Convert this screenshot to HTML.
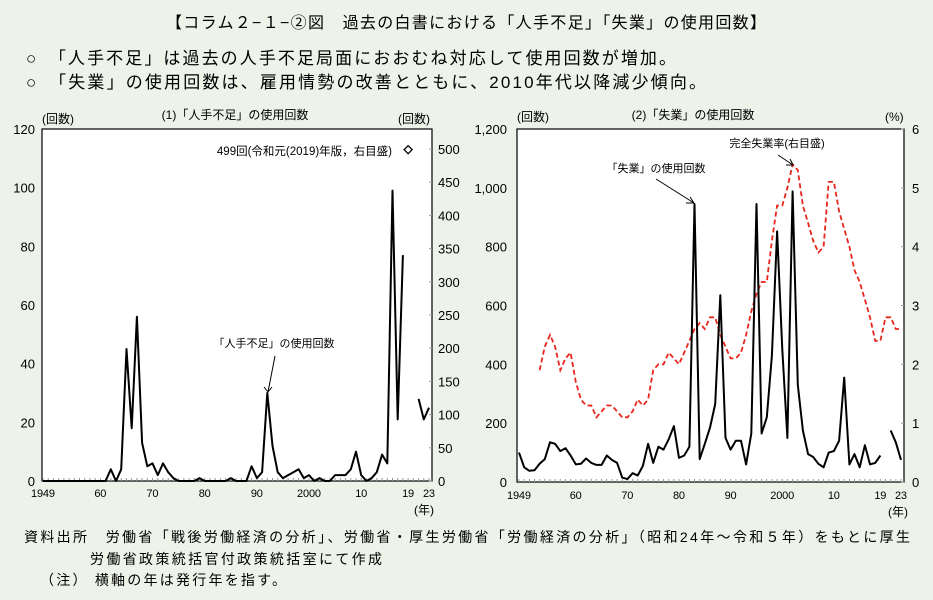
<!DOCTYPE html>
<html><head><meta charset="utf-8">
<style>
html,body{margin:0;padding:0;background:#eef3ea;}
svg{display:block;font-family:"Liberation Sans","Noto Sans CJK JP",sans-serif;}
</style></head>
<body>
<svg id="fig" width="933" height="600" viewBox="0 0 933 600">
<rect x="0" y="0" width="933" height="600" fill="#eef3ea"/>
<text x="466" y="28" font-size="16" text-anchor="middle" textLength="600">【コラム２−１−②図　過去の白書における「人手不足」「失業」の使用回数】</text>
<text x="26" y="64" font-size="17" textLength="650">○　「人手不足」は過去の人手不足局面におおむね対応して使用回数が増加。</text>
<text x="26" y="88" font-size="17" textLength="680">○　「失業」の使用回数は、雇用情勢の改善とともに、2010年代以降減少傾向。</text>
<text x="24" y="542" font-size="14" textLength="886">資料出所　労働省「戦後労働経済の分析」、労働省・厚生労働省「労働経済の分析」（昭和24年〜令和５年）をもとに厚生</text>
<text x="90" y="564" font-size="14" textLength="292">労働省政策統括官付政策統括室にて作成</text>
<text x="40" y="585" font-size="14" textLength="246">（注）  横軸の年は発行年を指す。</text>
<g id="c1"></g>
<g id="c2"></g>
</svg>
<script>
// Chart 1 data: "人手不足" mentions by year (1949-2023), null = not plotted
const years1 = [];
for (let y = 1949; y <= 2023; y++) years1.push(y);
const shortageCounts = [0,0,0,0,0,0,0,0,0,0,0,0,4,0,4,45,18,56,13,5,6,2,6,3,1,0,0,0,0,1,0,0,0,0,0,1,0,0,0,5,1,3,30,12,3,1,2,3,4,1,2,0,1,0,0,2,2,2,4,10,2,0,1,3,9,6,99,21,77,null,28,21,25].slice(0);
// index mapping: 1949..1960 zeros then 1961..
const shortage = [0,0,0,0,0,0,0,0,0,0,0,0,0,4,0,4,45,18,56,13,5,6,2,6,3,1,0,0,0,0,1,0,0,0,0,0,1,0,0,0,5,1,3,30,12,3,1,2,3,4,1,2,0,1,0,0,2,2,2,4,10,2,0,1,3,9,6,99,21,77,null,null,28,21,25];
const outlierYear = [2019];
const outlierValue = [499];
const leftTicks1 = [0,20,40,60,80,100,120];
const rightTicks1 = [0,50,100,150,200,250,300,350,400,450,500];
const xTickYears = [1949,1960,1970,1980,1990,2000,2010,2019,2023];
const xTickLabels = ["1949","60","70","80","90","2000","10","19","23"];

// Chart 2 data
const unempCounts = [100,50,38,40,62,78,135,130,105,115,90,60,62,80,65,58,58,90,75,65,15,10,30,22,55,130,65,120,110,145,190,82,90,120,945,78,130,185,265,635,150,110,140,140,60,165,945,165,220,430,852,450,150,988,330,175,95,85,62,50,100,105,140,355,60,95,50,125,60,65,90,null,175,135,75];
const rateYears = [];
for (let y = 1953; y <= 2023; y++) rateYears.push(y);
const unempRate = [1.9,2.3,2.5,2.3,1.9,2.1,2.2,1.7,1.4,1.3,1.3,1.1,1.2,1.3,1.3,1.2,1.1,1.1,1.2,1.4,1.3,1.4,1.9,2.0,2.0,2.2,2.1,2.0,2.2,2.4,2.6,2.7,2.6,2.8,2.8,2.5,2.3,2.1,2.1,2.2,2.5,2.9,3.2,3.4,3.4,4.1,4.7,4.7,5.0,5.4,5.3,4.7,4.4,4.1,3.9,4.0,5.1,5.1,4.6,4.3,4.0,3.6,3.4,3.1,2.8,2.4,2.4,2.8,2.8,2.6,2.6];
const leftTicks2 = [0,200,400,600,800,1000,1200];
const leftTickLabels2 = ["0","200","400","600","800","1,000","1,200"];
const rightTicks2 = [0,1,2,3,4,5,6];

const NS = "http://www.w3.org/2000/svg";
function mk(parent, tag, attrs, text) {
  const e = document.createElementNS(NS, tag);
  for (const k in attrs) e.setAttribute(k, attrs[k]);
  if (text !== undefined) e.textContent = text;
  parent.appendChild(e);
  return e;
}
function pathFrom(xs, ys, xf, yf) {
  let d = "", pen = false;
  for (let i = 0; i < xs.length; i++) {
    if (ys[i] === null || ys[i] === undefined) { pen = false; continue; }
    d += (pen ? "L" : "M") + xf(xs[i]).toFixed(1) + "," + yf(ys[i]).toFixed(1);
    pen = true;
  }
  return d;
}

// ---------- Chart 1 ----------
(function(){
  const g = document.getElementById("c1");
  const L = 42, R = 432, T = 129, B = 481;
  const x = y => 43 + (y - 1949) * (429 - 43) / 74;
  const yl = v => B - v * (B - T) / 120;
  const yr = v => B - v * (B - 149) / 500;
  const box = mk(g, "rect", {x:L, y:T, width:R-L, height:B-T, fill:"#fff", stroke:"#000", "stroke-width":1.2});
  
  
  for (let yy = 1949; yy <= 2023; yy++) {
    const t = mk(g, "line", {x1:x(yy), x2:x(yy), y1:B, y2:B-3, stroke:"#999", "stroke-width":1});
    
    
  }
  leftTicks1.forEach(v => {
    const t = mk(g, "text", {x:35, y:yl(v)+5, "font-size":13, "text-anchor":"end"}, String(v));
    
    
  });
  rightTicks1.forEach(v => {
    const t = mk(g, "text", {x:438, y:yr(v)+5, "font-size":13}, String(v));
    
    
    const k = mk(g, "line", {x1:R, x2:R-3, y1:yr(v), y2:yr(v), stroke:"#999"});
    
    
  });
  xTickYears.forEach((yy, i) => {
    const t = mk(g, "text", {x:x(yy), y:497, "font-size":11, "text-anchor":"middle", textLength: xTickLabels[i].length > 2 ? 24 : 12}, xTickLabels[i]);
    
    
  });
  let t;
  t = mk(g, "text", {x:424, y:514, "font-size":12, "text-anchor":"middle"}, "(年)");
   
  t = mk(g, "text", {x:42, y:123, "font-size":12}, "(回数)");
   
  t = mk(g, "text", {x:398, y:123, "font-size":12}, "(回数)");
   
  t = mk(g, "text", {x:235, y:119, "font-size":12, "text-anchor":"middle"}, "(1)「人手不足」の使用回数");
   
  t = mk(g, "text", {x:392, y:155, "font-size":11.5, "text-anchor":"end"}, "499回(令和元(2019)年版，右目盛)");
   
  outlierYear.forEach((yy, i) => {
    const cx = x(yy), cy = yr(outlierValue[i]);
    const d = mk(g, "path", {d:`M${cx},${cy-4}L${cx+4},${cy}L${cx},${cy+4}L${cx-4},${cy}Z`, fill:"#fff", stroke:"#000", "stroke-width":1.3});
    
    
  });
  const p = mk(g, "path", {d:pathFrom(years1, shortage, x, yl), fill:"none", stroke:"#000", "stroke-width":2, "stroke-linejoin":"round"});
  
  
  t = mk(g, "text", {x:274, y:347, "font-size":11, "text-anchor":"middle"}, "「人手不足」の使用回数");
   
  const a = mk(g, "path", {d:`M275,356L268,392M264,387L268,392L272,387`, fill:"none", stroke:"#000", "stroke-width":1});
   
})();

// ---------- Chart 2 ----------
(function(){
  const g = document.getElementById("c2");
  const L = 517, R = 904, T = 129, B = 482;
  const x = y => 519 + (y - 1949) * (901 - 519) / 74;
  const yl = v => B - v * (B - T) / 1200;
  const yr = v => B - v * (B - T) / 6;
  const box = mk(g, "rect", {x:L, y:T, width:R-L, height:B-T, fill:"#fff", stroke:"#000", "stroke-width":1.2});
  
  
  for (let yy = 1949; yy <= 2023; yy++) {
    const t = mk(g, "line", {x1:x(yy), x2:x(yy), y1:B, y2:B-3, stroke:"#999"});
    
    
  }
  leftTicks2.forEach((v, i) => {
    const t = mk(g, "text", {x:507, y:yl(v)+5, "font-size":13, "text-anchor":"end"}, leftTickLabels2[i]);
    
    
  });
  rightTicks2.forEach(v => {
    const t = mk(g, "text", {x:912, y:yr(v)+5, "font-size":13}, String(v));
    
    
    const k = mk(g, "line", {x1:R, x2:R-3, y1:yr(v), y2:yr(v), stroke:"#999"});
    
    
  });
  xTickYears.forEach((yy, i) => {
    const t = mk(g, "text", {x:x(yy), y:499, "font-size":11, "text-anchor":"middle", textLength: xTickLabels[i].length > 2 ? 24 : 12}, xTickLabels[i]);
    
    
  });
  let t;
  t = mk(g, "text", {x:898, y:516, "font-size":12, "text-anchor":"middle"}, "(年)");
   
  t = mk(g, "text", {x:517, y:121, "font-size":12}, "(回数)");
   
  t = mk(g, "text", {x:885, y:121, "font-size":12}, "(%)");
   
  t = mk(g, "text", {x:693, y:119, "font-size":12, "text-anchor":"middle"}, "(2)「失業」の使用回数");
   
  const r = mk(g, "path", {d:pathFrom(rateYears, unempRate, x, yr), fill:"none", stroke:"#e8261c", "stroke-width":1.8, "stroke-dasharray":"5,3"});
  
  
  const p = mk(g, "path", {d:pathFrom(years1, unempCounts, x, yl), fill:"none", stroke:"#000", "stroke-width":2, "stroke-linejoin":"round"});
  
  
  t = mk(g, "text", {x:656, y:172, "font-size":11, "text-anchor":"middle"}, "「失業」の使用回数");
   
  let a = mk(g, "path", {d:`M656,179L694,203M686,203L694,203L690,197`, fill:"none", stroke:"#000", "stroke-width":1});
   
  t = mk(g, "text", {x:777, y:147, "font-size":11, "text-anchor":"middle"}, "完全失業率(右目盛)");
   
  a = mk(g, "path", {d:`M778,155L793,165M786,165L793,165L790,159`, fill:"none", stroke:"#000", "stroke-width":1});
   
})();
</script>
</body></html>
